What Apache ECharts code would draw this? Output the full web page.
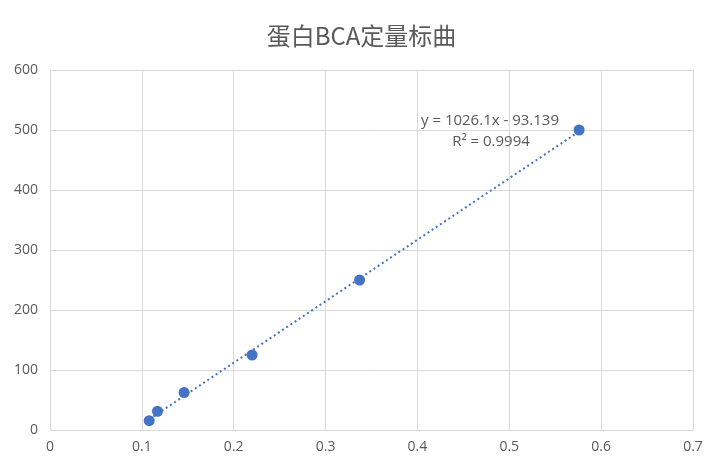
<!DOCTYPE html>
<html><head><meta charset="utf-8">
<script src="https://cdn.jsdelivr.net/npm/echarts@6/dist/echarts.min.js"></script>
<style>html,body{margin:0;padding:0;background:#fff}#c{width:723px;height:469px}</style>
</head><body><div id="c"></div>
<script>
const absorbance = [0.108, 0.117, 0.146, 0.220, 0.337, 0.576];
const concentration = [15.625, 31.25, 62.5, 125, 250, 500];
const titleText = '蛋白BCA定量标曲';
const eqText = 'y = 1026.1x - 93.139';
const r2Text = 'R² = 0.9994';

const pts = absorbance.map((x, i) => [x, concentration[i]]);
const n = pts.length;
const mx = absorbance.reduce((a, b) => a + b, 0) / n;
const my = concentration.reduce((a, b) => a + b, 0) / n;
let sxy = 0, sxx = 0;
for (let i = 0; i < n; i++) { sxy += (absorbance[i] - mx) * (concentration[i] - my); sxx += (absorbance[i] - mx) ** 2; }
const slope = sxy / sxx, icpt = my - slope * mx;
const xmin = Math.min(...absorbance), xmax = Math.max(...absorbance);
const trend = [[xmin, slope * xmin + icpt], [xmax, slope * xmax + icpt]];

const cjk = '"Noto Sans CJK SC", sans-serif';
const num = '"Open Sans", "Noto Sans", sans-serif';
const chart = echarts.init(document.getElementById('c'));
chart.setOption({
  animation: false,
  title: { text: titleText, left: 'center', top: 16, textStyle: { color: '#595959', fontSize: 24, fontWeight: 'normal', fontFamily: cjk, lineHeight: 30 } },
  grid: { left: 50, right: 30, top: 70, bottom: 39 },
  xAxis: { type: 'value', min: 0, max: 0.7, interval: 0.1,
    axisLine: { lineStyle: { color: '#d9d9d9' } }, axisTick: { show: false },
    axisLabel: { color: '#595959', fontSize: 14, fontFamily: num, margin: 10 },
    splitLine: { lineStyle: { color: '#d9d9d9' } } },
  yAxis: { type: 'value', min: 0, max: 600, interval: 100,
    axisLine: { show: true, lineStyle: { color: '#d9d9d9' } }, axisTick: { show: false },
    axisLabel: { color: '#595959', fontSize: 14, fontFamily: num, margin: 12 },
    splitLine: { lineStyle: { color: '#d9d9d9' } } },
  series: [
    { type: 'line', data: trend, symbol: 'none', lineStyle: { color: '#4472C4', width: 2, type: [2, 3] }, z: 2 },
    { type: 'scatter', data: pts, symbolSize: 11, itemStyle: { color: '#4472C4', opacity: 1 }, z: 3 }
  ]
});
const p1 = chart.convertToPixel({ gridIndex: 0 }, [0.479, 500]);
chart.setOption({ graphic: [
  { type: 'text', x: p1[0], y: p1[1] - 9, style: { text: eqText, fill: '#595959', font: '15px ' + num, align: 'center', verticalAlign: 'middle' } },
  { type: 'text', x: p1[0] + 1, y: p1[1] + 12, style: { text: r2Text, fill: '#595959', font: '15px ' + num, align: 'center', verticalAlign: 'middle' } }
] });
</script></body></html>
